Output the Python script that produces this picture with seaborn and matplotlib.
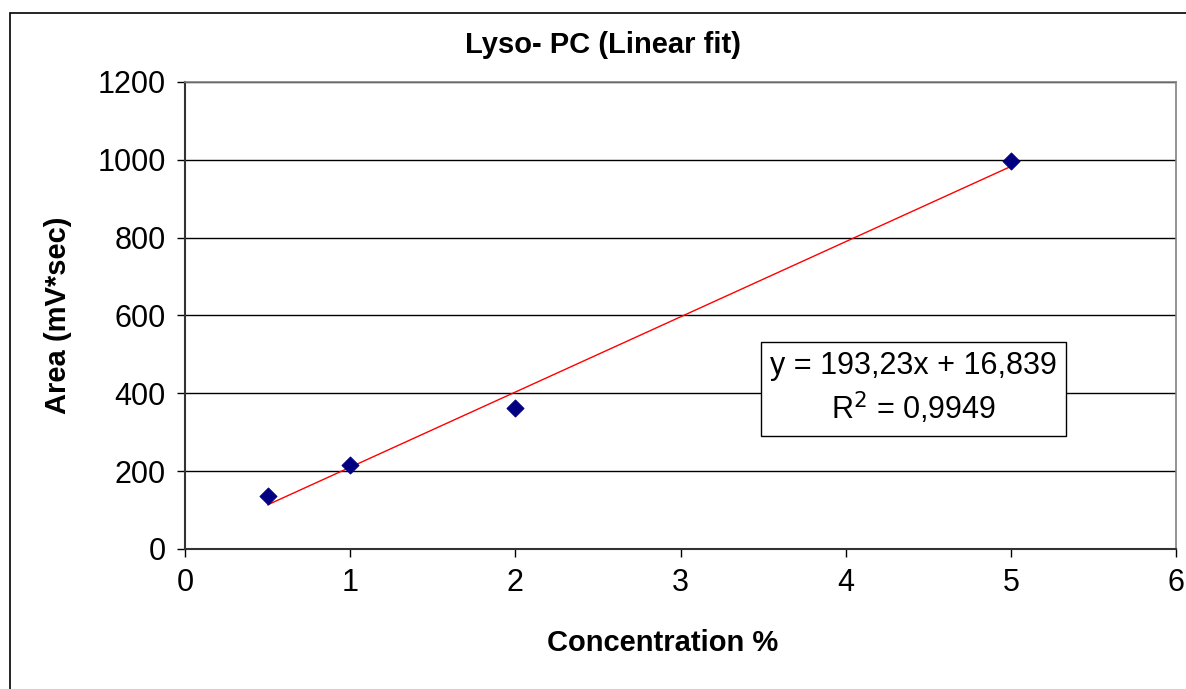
import matplotlib
matplotlib.use('Agg')
import matplotlib.pyplot as plt
import matplotlib.patches as patches
import seaborn as sns
import pandas as pd

# Data
concentration = [0.5, 1, 2, 5]
area = [135, 216, 362, 998]
slope = 193.23
intercept = 16.839
r_squared = 0.9949

df = pd.DataFrame({'Concentration': concentration, 'Area': area})
fit = pd.DataFrame({'Concentration': [min(concentration), max(concentration)]})
fit['Area'] = slope * fit['Concentration'] + intercept

sns.set_style('white')
plt.rcParams['font.family'] = ['Liberation Sans', 'DejaVu Sans']
plt.rcParams['text.color'] = 'black'
plt.rcParams['axes.labelcolor'] = 'black'
plt.rcParams['xtick.color'] = 'black'
plt.rcParams['ytick.color'] = 'black'

fig = plt.figure(figsize=(11.86, 6.89), dpi=100)
ax = fig.add_axes([0.156, 0.2032, 0.8356, 0.6778])

sns.lineplot(data=fit, x='Concentration', y='Area', color='red', linewidth=1, ax=ax)
sns.scatterplot(data=df, x='Concentration', y='Area', marker='D', color='#000080',
                s=75, edgecolor='#000080', zorder=5, ax=ax)

ax.set_xlim(0, 6)
ax.set_ylim(0, 1200)
ax.set_xticks(range(0, 7))
ax.set_yticks(range(0, 1201, 200))
ax.yaxis.grid(True, color='black', linewidth=1)
ax.set_axisbelow(True)
ax.tick_params(axis='both', labelsize=22, direction='out', length=6, width=1,
               color='black', bottom=True, left=True, pad=8)
for side in ['left', 'bottom']:
    ax.spines[side].set_color('#333333')
    ax.spines[side].set_linewidth(1.5)
for side in ['right', 'top']:
    ax.spines[side].set_color('#808080')
    ax.spines[side].set_linewidth(1.2)

ax.set_xlabel('Concentration %', fontsize=21, fontweight='bold', labelpad=22)
ax.xaxis.label.set_x(0.482)
ax.set_ylabel('Area (mV*sec)', fontsize=21, fontweight='bold', labelpad=18)
fig.text(603 / 1186, 1 - 45 / 689, 'Lyso- PC (Linear fit)', fontsize=21,
         fontweight='bold', ha='center', va='center')

eq = f'y = {slope:.2f}x + {intercept:.3f}'.replace('.', ',')
r2 = f'R$^2$ = {r_squared:.4f}'.replace('.', ',')
ax.text(4.41, 411, eq + '\n' + r2, fontsize=22, ha='center', va='center',
        linespacing=1.3,
        bbox=dict(boxstyle='square,pad=0.3', facecolor='white', edgecolor='black', linewidth=1))

# outer chart frame
fig.patches.append(patches.Rectangle((10 / 1186, -0.1), 1.2, 1 - 13 / 689 + 0.1,
                                     transform=fig.transFigure, fill=False,
                                     edgecolor='black', linewidth=1.2))

fig.savefig('out.png', dpi=100)
